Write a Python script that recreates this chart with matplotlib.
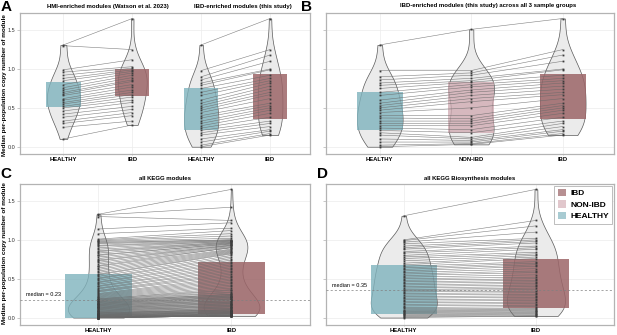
import numpy as np
import matplotlib.pyplot as plt
from matplotlib.patches import Rectangle, Patch

plt.rcParams['font.family'] = ['Liberation Sans', 'DejaVu Sans']

# ---- data ----
hmi_healthy = [1.31, 1.30, 0.99, 0.96, 0.92, 0.88, 0.85, 0.80, 0.76, 0.73, 0.70, 0.68, 0.66,
               0.62, 0.60, 0.57, 0.55, 0.52, 0.50, 0.46, 0.42, 0.38, 0.33, 0.30, 0.25, 0.10]
hmi_ibd = [1.65, 1.25, 1.12, 1.03, 1.01, 0.99, 0.97, 0.95, 0.92, 0.89, 0.86, 0.84, 0.80,
           0.77, 0.73, 0.70, 0.67, 0.64, 0.60, 0.57, 0.52, 0.48, 0.44, 0.40, 0.33, 0.28]

ibdmod_healthy = [1.31, 0.98, 0.90, 0.86, 0.82, 0.79, 0.75, 0.70, 0.66, 0.60, 0.56, 0.53, 0.50, 0.47,
                  0.44, 0.40, 0.37, 0.33, 0.30, 0.27, 0.24, 0.21, 0.18, 0.15, 0.10, 0.06, 0.02, 0.00]
ibdmod_nonibd = [1.51, 0.98, 0.95, 0.92, 0.88, 0.85, 0.83, 0.80, 0.77, 0.73, 0.70, 0.66, 0.62, 0.58,
                 0.50, 0.40, 0.36, 0.33, 0.30, 0.27, 0.22, 0.18, 0.12, 0.10, 0.08, 0.06, 0.04, 0.03]
ibdmod_ibd = [1.65, 1.25, 1.18, 1.10, 1.00, 0.99, 0.92, 0.88, 0.85, 0.82, 0.78, 0.74, 0.70, 0.67,
              0.62, 0.56, 0.53, 0.50, 0.47, 0.43, 0.38, 0.33, 0.30, 0.26, 0.22, 0.20, 0.17, 0.15]

kegg_healthy = [1.33, 1.32, 1.30, 1.14, 1.08, 1.01, 1.00, 0.99, 0.98, 0.97, 0.96, 0.95, 0.93, 0.92,
                0.90, 0.88, 0.86, 0.85, 0.83, 0.81, 0.80, 0.78, 0.76, 0.74, 0.73, 0.71, 0.69, 0.67,
                0.66, 0.64, 0.62, 0.60, 0.58, 0.56, 0.55, 0.53, 0.51, 0.50, 0.48, 0.46, 0.45, 0.43,
                0.41, 0.40, 0.38, 0.37, 0.35, 0.34, 0.33, 0.31, 0.30, 0.29, 0.28, 0.27, 0.26, 0.25,
                0.24, 0.24, 0.23, 0.23, 0.22, 0.22, 0.21, 0.21, 0.20, 0.20, 0.19, 0.19, 0.18, 0.18,
                0.17, 0.17, 0.16, 0.16, 0.15, 0.15, 0.14, 0.14, 0.13, 0.13, 0.12, 0.12, 0.11, 0.11,
                0.10, 0.10, 0.09, 0.09, 0.08, 0.08, 0.07, 0.07, 0.06, 0.06, 0.06, 0.05, 0.05, 0.05,
                0.04, 0.04, 0.04, 0.03, 0.03, 0.03, 0.03, 0.02, 0.02, 0.02, 0.02, 0.01, 0.01, 0.01,
                0.01, 0.01, 0.00, 0.00, 0.00, 0.00, 0.00, 0.00, 0.00, 0.00, 0.00, 0.00]
kegg_ibd = [1.65, 1.42, 1.25, 1.22, 1.15, 1.12, 1.08, 1.05, 1.02, 1.00, 1.00, 0.99, 0.99, 0.98,
            0.98, 0.97, 0.97, 0.96, 0.96, 0.95, 0.95, 0.94, 0.93, 0.93, 0.92, 0.91, 0.90, 0.90,
            0.88, 0.87, 0.86, 0.85, 0.84, 0.83, 0.82, 0.80, 0.78, 0.76, 0.74, 0.72, 0.70, 0.68,
            0.66, 0.64, 0.62, 0.60, 0.58, 0.56, 0.54, 0.52, 0.50, 0.48, 0.46, 0.44, 0.42, 0.40,
            0.38, 0.36, 0.35, 0.33, 0.32, 0.30, 0.30, 0.29, 0.28, 0.28, 0.27, 0.26, 0.26, 0.25,
            0.24, 0.24, 0.23, 0.22, 0.22, 0.21, 0.20, 0.20, 0.19, 0.18, 0.18, 0.17, 0.16, 0.16,
            0.15, 0.14, 0.14, 0.13, 0.12, 0.12, 0.11, 0.10, 0.10, 0.10, 0.09, 0.09, 0.08, 0.08,
            0.08, 0.07, 0.07, 0.07, 0.06, 0.06, 0.06, 0.05, 0.05, 0.05, 0.04, 0.04, 0.04, 0.04,
            0.03, 0.03, 0.03, 0.03, 0.02, 0.02, 0.02, 0.02, 0.02, 0.02, 0.02, 0.02]

bio_healthy = [1.31, 1.00, 0.99, 0.97, 0.95, 0.92, 0.90, 0.88, 0.85, 0.83, 0.80, 0.78, 0.76, 0.73,
               0.70, 0.68, 0.66, 0.64, 0.62, 0.60, 0.58, 0.56, 0.54, 0.52, 0.50, 0.48, 0.46, 0.44,
               0.42, 0.40, 0.38, 0.36, 0.35, 0.33, 0.31, 0.29, 0.27, 0.25, 0.23, 0.21, 0.19, 0.17,
               0.15, 0.13, 0.12, 0.10, 0.09, 0.08, 0.07, 0.06, 0.05, 0.04, 0.03, 0.02, 0.01, 0.00]
bio_ibd = [1.65, 1.25, 1.18, 1.10, 1.02, 1.00, 0.98, 0.96, 0.92, 0.90, 0.88, 0.84, 0.82, 0.80,
           0.78, 0.76, 0.72, 0.70, 0.68, 0.66, 0.63, 0.60, 0.58, 0.55, 0.52, 0.50, 0.48, 0.46,
           0.44, 0.42, 0.40, 0.38, 0.36, 0.34, 0.32, 0.30, 0.28, 0.26, 0.24, 0.22, 0.20, 0.18,
           0.16, 0.14, 0.12, 0.11, 0.10, 0.09, 0.08, 0.07, 0.06, 0.05, 0.04, 0.03, 0.02, 0.02]

# shaded boxes (low, high) per group
boxes_a = [(0.51, 0.83), (0.65, 1.00), (0.21, 0.76), (0.36, 0.94)]
boxes_b = [(0.22, 0.70), (0.18, 0.83), (0.36, 0.93)]
boxes_c = [(-0.01, 0.555), (0.05, 0.72)]
boxes_d = [(0.05, 0.675), (0.125, 0.75)]
median_c = 0.23
median_d = 0.35

COL = {'HEALTHY': '#7fb3bd', 'NON-IBD': '#d0a8b0', 'IBD': '#9c6568'}
ALPHA = {'HEALTHY': 0.8, 'NON-IBD': 0.75, 'IBD': 0.85}


def draw_group(ax, pos, vals, width, box, group):
    vp = ax.violinplot([vals], positions=[pos], widths=width, showextrema=False)
    for b in vp['bodies']:
        b.set_facecolor('#ebebeb')
        b.set_edgecolor('#5a5a5a')
        b.set_linewidth(0.5)
        b.set_alpha(1)
        b.set_zorder(1)
    lo, hi = box
    ax.add_patch(Rectangle((pos - 0.25, lo), 0.5, hi - lo, facecolor=COL[group],
                           alpha=ALPHA[group], lw=0, zorder=2))


def connect(ax, positions, series):
    arr = [np.sort(s)[::-1] for s in series]
    n = min(len(a) for a in arr)
    for i in range(n):
        ax.plot(positions, [a[i] for a in arr], color='#6a6a6a', lw=0.4, alpha=0.85, zorder=3)
    for p, a in zip(positions, arr):
        ax.plot(np.full(len(a), p), a, ls='none', marker='s', ms=1.3, mew=0,
                color='#3d3d3d', zorder=4)


def style(ax, labels, xlim, show_y):
    ax.set_xlim(xlim)
    ax.set_ylim(-0.095, 1.72)
    ax.set_xticks(range(1, len(labels) + 1))
    ax.set_xticklabels(labels, fontsize=4.2, fontweight='bold')
    ax.set_yticks([0, 0.5, 1.0, 1.5])
    ax.set_yticklabels(['0.0', '0.5', '1.0', '1.5'] if show_y else [])
    ax.tick_params(axis='y', length=2, width=0.5, color='#b0b0b0', labelsize=4,
                   pad=1.5, labelcolor='#333333')
    ax.tick_params(axis='x', length=1, width=0.5, color='#b0b0b0', pad=1.2)
    ax.set_axisbelow(True)
    ax.grid(True, color='#ececec', lw=0.5)
    for s in ax.spines.values():
        s.set_color('#b3b3b3')
        s.set_linewidth(0.9)


fig = plt.figure(figsize=(6.17, 3.35), dpi=100)
axA = fig.add_axes([0.0324, 0.540, 0.470, 0.421])
axB = fig.add_axes([0.528, 0.540, 0.467, 0.421])
axC = fig.add_axes([0.0324, 0.030, 0.470, 0.421])
axD = fig.add_axes([0.528, 0.030, 0.467, 0.421])

# A
a_groups = ['HEALTHY', 'IBD', 'HEALTHY', 'IBD']
a_series = [hmi_healthy, hmi_ibd, ibdmod_healthy, ibdmod_ibd]
a_widths = [0.48, 0.42, 0.5, 0.36]
for i, (g, s, w, bx) in enumerate(zip(a_groups, a_series, a_widths, boxes_a)):
    draw_group(axA, i + 1, s, w, bx, g)
connect(axA, [1, 2], [hmi_healthy, hmi_ibd])
connect(axA, [3, 4], [ibdmod_healthy, ibdmod_ibd])
style(axA, a_groups, (0.37, 4.58), True)
axA.text(1.64, 1.05, 'HMI-enriched modules (Watson et al. 2023)', transform=axA.get_xaxis_transform(),
         ha='center', va='center', fontsize=4.3, fontweight='bold')
axA.text(3.61, 1.05, 'IBD-enriched modules (this study)', transform=axA.get_xaxis_transform(),
         ha='center', va='center', fontsize=4.3, fontweight='bold')

# B
b_groups = ['HEALTHY', 'NON-IBD', 'IBD']
b_series = [ibdmod_healthy, ibdmod_nonibd, ibdmod_ibd]
for i, (g, s, bx) in enumerate(zip(b_groups, b_series, boxes_b)):
    draw_group(axB, i + 1, s, 0.5, bx, g)
connect(axB, [1, 2, 3], b_series)
style(axB, b_groups, (0.41, 3.56), False)
axB.text(2.18, 1.055, 'IBD-enriched modules (this study) across all 3 sample groups',
         transform=axB.get_xaxis_transform(), ha='center', va='center', fontsize=4.3, fontweight='bold')

# C
for i, (g, s, w, bx) in enumerate(zip(['HEALTHY', 'IBD'], [kegg_healthy, kegg_ibd], [0.46, 0.42], boxes_c)):
    draw_group(axC, i + 1, s, w, bx, g)
connect(axC, [1, 2], [kegg_healthy, kegg_ibd])
style(axC, ['HEALTHY', 'IBD'], (0.41, 2.59), True)
axC.axhline(median_c, color='#808080', lw=0.5, ls=(0, (3, 3)), zorder=5)
axC.text(0.02, median_c + 0.03, f'median = {median_c}', transform=axC.get_yaxis_transform(),
         fontsize=4, va='bottom', zorder=6)
axC.text(0.5, 1.035, 'all KEGG modules', transform=axC.transAxes, ha='center', va='center',
         fontsize=4.3, fontweight='bold')

# D
for i, (g, s, w, bx) in enumerate(zip(['HEALTHY', 'IBD'], [bio_healthy, bio_ibd], [0.5, 0.44], boxes_d)):
    draw_group(axD, i + 1, s, w, bx, g)
connect(axD, [1, 2], [bio_healthy, bio_ibd])
style(axD, ['HEALTHY', 'IBD'], (0.41, 2.59), False)
axD.axhline(median_d, color='#808080', lw=0.5, ls=(0, (3, 3)), zorder=5)
axD.text(0.02, median_d + 0.03, f'median = {median_d}', transform=axD.get_yaxis_transform(),
         fontsize=4, va='bottom', zorder=6)
axD.text(0.5, 1.035, 'all KEGG Biosynthesis modules', transform=axD.transAxes, ha='center',
         va='center', fontsize=4.3, fontweight='bold')

handles = [Patch(facecolor=COL[g], alpha=ALPHA[g] * 0.85, edgecolor='none', label=g)
           for g in ['IBD', 'NON-IBD', 'HEALTHY']]
leg = axD.legend(handles=handles, loc='upper right', bbox_to_anchor=(1.0, 1.0), borderaxespad=0.2,
                 prop={'size': 6, 'weight': 'bold'}, handlelength=1.0, handleheight=1.0,
                 handletextpad=0.5, labelspacing=0.35, fancybox=False, framealpha=1)
leg.get_frame().set_edgecolor('#b3b3b3')
leg.get_frame().set_linewidth(0.6)

# y labels and panel letters
ylab = 'Median per-population copy number of module'
fig.text(0.007, 0.745, ylab, rotation=90, ha='center', va='center', fontsize=4.6, fontweight='bold')
fig.text(0.007, 0.245, ylab, rotation=90, ha='center', va='center', fontsize=4.6, fontweight='bold')
fig.text(0.001, 1.0, 'A', ha='left', va='top', fontsize=11, fontweight='bold')
fig.text(0.488, 1.0, 'B', ha='left', va='top', fontsize=11, fontweight='bold')
fig.text(0.001, 0.502, 'C', ha='left', va='top', fontsize=11, fontweight='bold')
fig.text(0.513, 0.502, 'D', ha='left', va='top', fontsize=11, fontweight='bold')

fig.savefig('out.png', dpi=100)
